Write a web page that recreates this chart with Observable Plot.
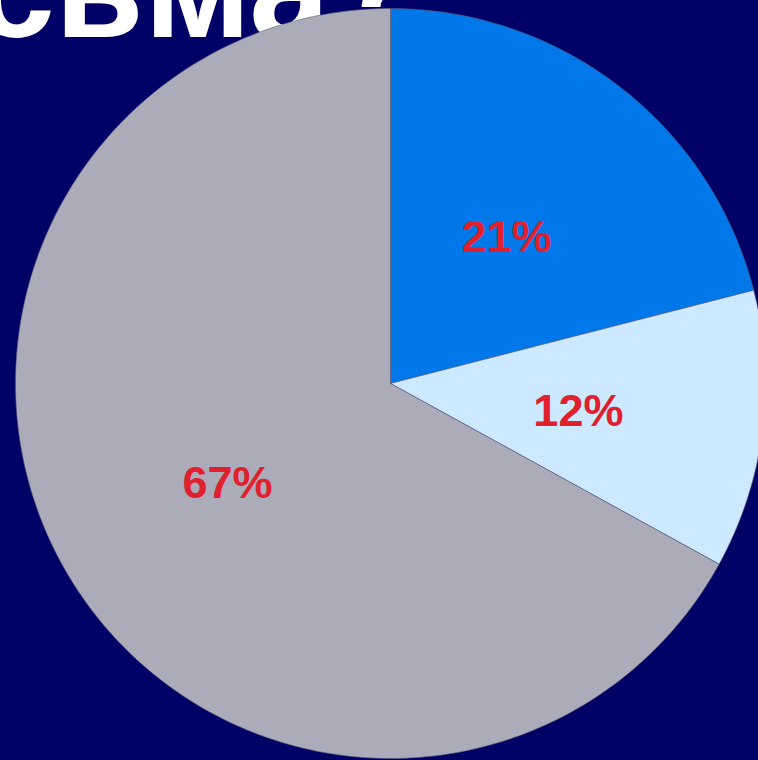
<!DOCTYPE html>
<html>
<head>
<meta charset="utf-8">
<script src="https://cdn.jsdelivr.net/npm/d3@7"></script>
<script src="https://cdn.jsdelivr.net/npm/@observablehq/plot@0.6"></script>
<style>
  html, body { margin: 0; padding: 0; background: #000066; overflow: hidden; }
  #chart svg { display: block; }
</style>
</head>
<body>
<div id="chart"></div>
<script>
// Data
const categories = ["A", "B", "C"];
const values = [21, 12, 67];
const labels = ["21%", "12%", "67%"];
const colors = ["#0078EA", "#CCE9FF", "#ABABB9"];
const titleText = "письма?";

const W = 758, H = 760;
const R = 375, CX = 390, CY = 383;

const total = d3.sum(values);
const slices = [];
let acc = 0;
categories.forEach((c, i) => {
  const start = acc / total, end = (acc + values[i]) / total;
  slices.push({cat: c, start, end, label: labels[i], value: values[i]});
  acc += values[i];
});

// polygon points for each slice (unit circle, angle clockwise from 12 o'clock)
const pts = [];
for (const s of slices) {
  pts.push({cat: s.cat, x: 0, y: 0});
  const n = Math.max(2, Math.ceil((s.end - s.start) * 360));
  for (let k = 0; k <= n; k++) {
    const a = 2 * Math.PI * (s.start + (s.end - s.start) * k / n);
    pts.push({cat: s.cat, x: Math.sin(a), y: Math.cos(a)});
  }
  pts.push({cat: s.cat, x: 0, y: 0});
}
const labelPts = slices.map(s => {
  const a = 2 * Math.PI * (s.start + s.end) / 2;
  return {label: s.label, x: 0.505 * Math.sin(a), y: 0.505 * Math.cos(a)};
});

const chart = Plot.plot({
  width: W, height: H,
  margin: 0,
  style: {background: "#000066"},
  x: {domain: [-CX / R, (W - CX) / R], axis: null},
  y: {domain: [-(H - CY) / R, CY / R], axis: null},
  color: {domain: categories, range: colors},
  marks: [
    Plot.text([titleText], {
      text: d => d, frameAnchor: "top-left", textAnchor: "end", lineAnchor: "bottom",
      dx: 418, dy: 36, fill: "white", fontSize: 145, fontWeight: "bold",
      fontFamily: "Liberation Sans, Arial, sans-serif"
    }),
    Plot.line(pts, {x: "x", y: "y", z: "cat", fill: "cat", stroke: "#5a5a78", strokeWidth: 0.6, curve: "linear"}),
    Plot.text(labelPts, {
      x: "x", y: "y", text: "label", dy: 4, fill: "#E0202C", fontSize: 45, fontWeight: "bold",
      fontFamily: "Liberation Sans, Arial, sans-serif"
    })
  ]
});
document.getElementById("chart").append(chart);
</script>
</body>
</html>
